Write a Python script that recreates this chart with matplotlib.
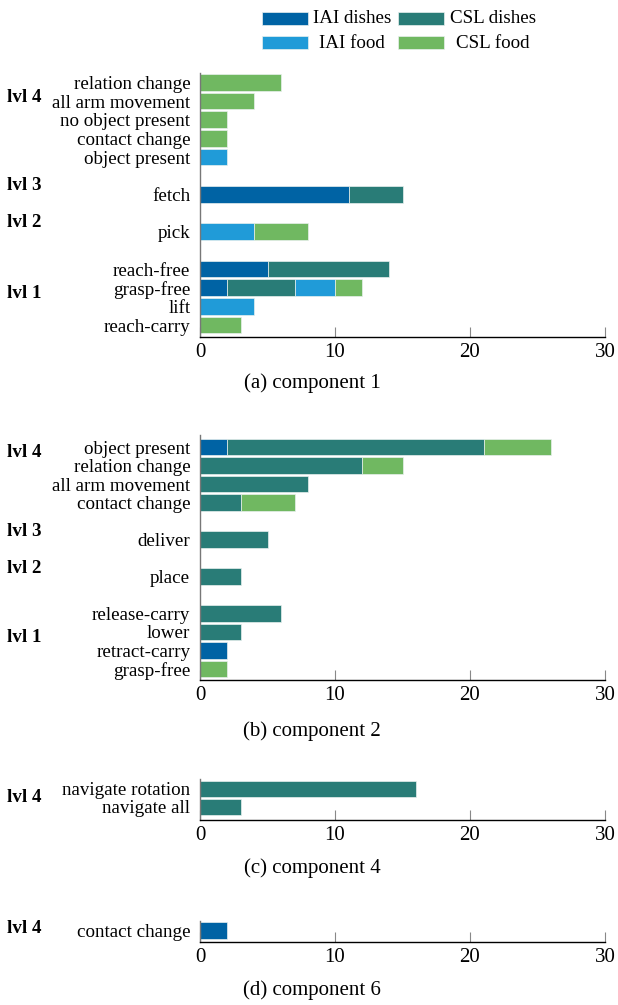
import matplotlib
matplotlib.use("Agg")
import matplotlib.pyplot as plt
from matplotlib.patches import Rectangle
from matplotlib.transforms import blended_transform_factory
import numpy as np

plt.rcParams['font.family'] = ['Liberation Serif', 'DejaVu Serif']

series = ["IAI dishes", "CSL dishes", "IAI food", "CSL food"]
colors = ["#0063a4", "#297c77", "#209bd8", "#70b861"]

# component 1
c1_labels = ["reach-carry", "lift", "grasp-free", "reach-free", "pick", "fetch",
             "object present", "contact change", "no object present",
             "all arm movement", "relation change"]
c1_pos = [0, 1, 2, 3, 5, 7, 9, 10, 11, 12, 13]
c1_iai_dishes = [0, 0, 2, 5, 0, 11, 0, 0, 0, 0, 0]
c1_csl_dishes = [0, 0, 5, 9, 0, 4, 0, 0, 0, 0, 0]
c1_iai_food = [0, 4, 3, 0, 4, 0, 2, 0, 0, 0, 0]
c1_csl_food = [3, 0, 2, 0, 4, 0, 0, 2, 2, 4, 6]
c1_levels = ["lvl 1", "lvl 2", "lvl 3", "lvl 4"]
c1_level_pos = [1.7, 5.5, 7.5, 12.2]

# component 2
c2_labels = ["grasp-free", "retract-carry", "lower", "release-carry", "place",
             "deliver", "contact change", "all arm movement", "relation change",
             "object present"]
c2_pos = [0, 1, 2, 3, 5, 7, 9, 10, 11, 12]
c2_iai_dishes = [0, 2, 0, 0, 0, 0, 0, 0, 0, 2]
c2_csl_dishes = [0, 0, 3, 6, 3, 5, 3, 8, 12, 19]
c2_iai_food = [0, 0, 0, 0, 0, 0, 0, 0, 0, 0]
c2_csl_food = [2, 0, 0, 0, 0, 0, 4, 0, 3, 5]
c2_levels = ["lvl 1", "lvl 2", "lvl 3", "lvl 4"]
c2_level_pos = [1.7, 5.45, 7.45, 11.7]

# component 4
c4_labels = ["navigate all", "navigate rotation"]
c4_pos = [0, 1]
c4_iai_dishes = [0, 0]
c4_csl_dishes = [3, 16]
c4_iai_food = [0, 0]
c4_csl_food = [0, 0]
c4_levels = ["lvl 4"]
c4_level_pos = [0.55]

# component 6
c6_labels = ["contact change"]
c6_pos = [0]
c6_iai_dishes = [2]
c6_csl_dishes = [0]
c6_iai_food = [0]
c6_csl_food = [0]
c6_levels = ["lvl 4"]
c6_level_pos = [0.1]

W, H = 618, 1005
LABEL_FS = 13.7
fig = plt.figure(figsize=(W / 100, H / 100), dpi=100)


def panel(top, bottom, ylim, pos, labels, stacks, levels, level_pos, caption, cap_y):
    ax = fig.add_axes([200 / W, 1 - bottom / H, 405 / W, (bottom - top) / H])
    left = np.zeros(len(pos))
    for vals, col in zip(stacks, colors):
        vals = np.array(vals, dtype=float)
        mask = vals > 0
        ax.barh(np.array(pos)[mask], vals[mask], left=left[mask], height=0.9,
                color=col, edgecolor="#e8f0ee", linewidth=0.5)
        left += vals
    ax.set_xlim(0, 30)
    ax.set_ylim(*ylim)
    ax.set_yticks(pos)
    ax.set_yticklabels(labels, fontsize=LABEL_FS)
    ax.tick_params(axis="y", length=0, pad=7)
    ax.set_xticks([0, 10, 20, 30])
    ax.tick_params(axis="x", direction="in", length=7.5, color="#888888",
                   labelsize=15, pad=4)
    for s in ["top", "right"]:
        ax.spines[s].set_visible(False)
    ax.spines["bottom"].set_color("black")
    ax.spines["bottom"].set_linewidth(1.0)
    ax.spines["left"].set_color("#777777")
    ax.spines["left"].set_linewidth(1.0)
    tr = blended_transform_factory(fig.transFigure, ax.transData)
    for lv, y in zip(levels, level_pos):
        ax.text(7 / W, y, lv, transform=tr, fontsize=LABEL_FS, fontweight="bold",
                ha="left", va="center")
    fig.text(312 / W, 1 - cap_y / H, caption, fontsize=15, ha="center", va="center")
    return ax


panel(73, 337, (-0.64, 13.5), c1_pos, c1_labels,
      [c1_iai_dishes, c1_csl_dishes, c1_iai_food, c1_csl_food],
      c1_levels, c1_level_pos, "(a) component 1", 383)
panel(435, 680, (-0.6, 12.65), c2_pos, c2_labels,
      [c2_iai_dishes, c2_csl_dishes, c2_iai_food, c2_csl_food],
      c2_levels, c2_level_pos, "(b) component 2", 731)
panel(779, 820, (-0.72, 1.55), c4_pos, c4_labels,
      [c4_iai_dishes, c4_csl_dishes, c4_iai_food, c4_csl_food],
      c4_levels, c4_level_pos, "(c) component 4", 868)
panel(921, 942, (-0.63, 0.5), c6_pos, c6_labels,
      [c6_iai_dishes, c6_csl_dishes, c6_iai_food, c6_csl_food],
      c6_levels, c6_level_pos, "(d) component 6", 990)

# legend: two columns, swatch on the left, label centred in the space after it
legend_cols = [(262, 352), (398, 493)]
legend_rows = [18.5, 43]
for i, (name, col) in enumerate(zip(series, colors)):
    (sx, tx), ry = legend_cols[i % 2], legend_rows[i // 2]
    fig.patches.append(Rectangle((sx / W, 1 - (ry + 6.5) / H), 46 / W, 13 / H,
                                 transform=fig.transFigure, facecolor=col,
                                 edgecolor="#e8f0ee", linewidth=0.5))
    fig.text(tx / W, 1 - ry / H, name, fontsize=LABEL_FS, ha="center", va="center")

fig.savefig("out.png", dpi=100)
